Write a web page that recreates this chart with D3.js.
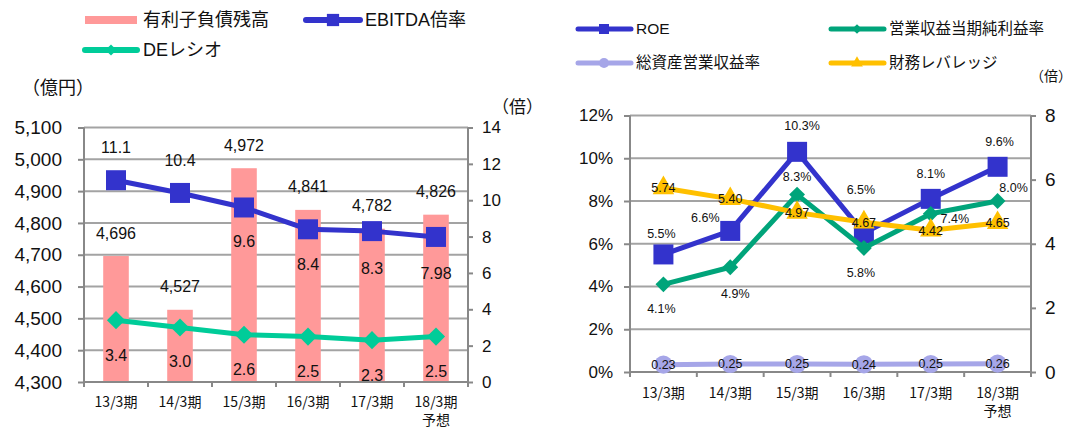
<!DOCTYPE html>
<html>
<head>
<meta charset="utf-8">
<script src="https://cdn.jsdelivr.net/npm/d3@7"></script>
<style>
  body { margin: 0; background: #fff; }
  svg { display: block; font-family: "Liberation Sans", Arial, "Noto Sans CJK JP", sans-serif; }
</style>
</head>
<body>
<svg id="chart" width="1073" height="428"></svg>
<script>
// ---- data ----
var categories = ["13/3期", "14/3期", "15/3期", "16/3期", "17/3期", "18/3期"];
var categorySub = ["", "", "", "", "", "予想"];

var debt = [4696, 4527, 4972, 4841, 4782, 4826];          // 有利子負債残高 (億円)
var ebitdaRatio = [11.1, 10.4, 9.6, 8.4, 8.3, 7.98];      // EBITDA倍率 (倍)
var deRatio = [3.4, 3.0, 2.6, 2.5, 2.3, 2.5];             // DEレシオ (倍)

var roe = [5.5, 6.6, 10.3, 6.5, 8.1, 9.6];                // ROE (%)
var netMargin = [4.1, 4.9, 8.3, 5.8, 7.4, 8.0];           // 営業収益当期純利益率 (%)
var assetTurnover = [0.23, 0.25, 0.25, 0.24, 0.25, 0.26]; // 総資産営業収益率 (倍)
var leverage = [5.74, 5.40, 4.97, 4.67, 4.42, 4.65];      // 財務レバレッジ (倍)

var debtTicks = [4300, 4400, 4500, 4600, 4700, 4800, 4900, 5000, 5100];
var ratioTicks = [0, 2, 4, 6, 8, 10, 12, 14];
var pctTicks = [0, 2, 4, 6, 8, 10, 12];
var timesTicks = [0, 2, 4, 6, 8];

// label placement (pixels from the point)
var ebitdaLabelDy = [-33, -33, 34, 35, 37, 36];
var deLabelDy = [35, 34, 35, 35, 35, 35];
var roeLabelOff = [[-2, -21], [-25, -13], [5, -26], [-3, -43], [0, -25], [2, -25]];
var marginLabelOff = [[-2, 24], [5, 26], [0, -18], [-3, 25], [24, 5], [16, -13]];

// ---- styles ----
var gridColor = "#a3a3a3", axisColor = "#888888";
var pink = "#ff9999", blue = "#3333cc", greenL = "#00cc99", greenR = "#00a47a",
    lavender = "#a6a6e8", yellow = "#ffc000";

var svg = d3.select("#chart");
svg.append("rect").attr("width", 1073).attr("height", 428).attr("fill", "#fff");

function styleAxis(g, size) {
  g.select(".domain").remove();
  g.selectAll(".tick line").attr("stroke", axisColor).attr("stroke-width", 2);
  g.selectAll(".tick text").attr("fill", "#111").style("font-size", size + "px");
}

function bottomAxis(x, x0, x1, y0, labelY) {
  svg.append("line").attr("x1", x0).attr("x2", x1).attr("y1", y0).attr("y2", y0)
    .attr("stroke", axisColor).attr("stroke-width", 2);
  var bounds = categories.map(function (c) { return x(c); }).concat([x1]);
  svg.selectAll(null).data(bounds).enter().append("line")
    .attr("x1", function (d) { return d; }).attr("x2", function (d) { return d; })
    .attr("y1", y0).attr("y2", y0 + 5)
    .attr("stroke", axisColor).attr("stroke-width", 2);
  var t = svg.selectAll(null).data(categories).enter().append("text")
    .attr("x", function (d) { return x(d) + x.bandwidth() / 2; })
    .attr("y", labelY)
    .attr("text-anchor", "middle")
    .style("font-family", "'Noto Sans CJK JP', sans-serif")
    .style("font-size", "14px").attr("fill", "#111");
  t.append("tspan").text(function (d) { return d; });
  t.append("tspan").attr("x", function (d) { return x(d) + x.bandwidth() / 2; })
    .attr("dy", 18).text(function (d, i) { return categorySub[i]; });
}

function vline(x, y0, y1) {
  svg.append("line").attr("x1", x).attr("x2", x).attr("y1", y0).attr("y2", y1)
    .attr("stroke", axisColor).attr("stroke-width", 2);
}

function series(x, y, vals, color, width, symbol, size) {
  var cx = function (i) { return x(categories[i]) + x.bandwidth() / 2; };
  svg.append("path").datum(vals)
    .attr("fill", "none").attr("stroke", color).attr("stroke-width", width)
    .attr("stroke-linejoin", "round")
    .attr("d", d3.line().x(function (d, i) { return cx(i); }).y(function (d) { return y(d); }));
  svg.selectAll(null).data(vals).enter().append("path")
    .attr("transform", function (d, i) { return "translate(" + cx(i) + "," + y(d) + ")"; })
    .attr("d", d3.symbol().type(symbol).size(size)())
    .attr("fill", color);
}

function labels(x, y, vals, fmt, offs, size) {
  svg.selectAll(null).data(vals).enter().append("text")
    .attr("x", function (d, i) { return x(categories[i]) + x.bandwidth() / 2 + offs[i][0]; })
    .attr("y", function (d, i) { return y(d) + offs[i][1]; })
    .attr("dy", "0.35em")
    .attr("text-anchor", "middle")
    .style("font-size", size + "px").attr("fill", "#111")
    .text(fmt);
}

// ================= left chart =================
var L = { x0: 84, x1: 468, y0: 382, y1: 127.5 };
var xL = d3.scaleBand().domain(categories).range([L.x0, L.x1]);
var yDebt = d3.scaleLinear().domain([4300, 5100]).range([L.y0, L.y1]);
var yRatio = d3.scaleLinear().domain([0, 14]).range([L.y0, L.y1]);

svg.selectAll(null).data(debtTicks.slice(1)).enter().append("line")
  .attr("x1", L.x0).attr("x2", L.x1)
  .attr("y1", function (d) { return yDebt(d); }).attr("y2", function (d) { return yDebt(d); })
  .attr("stroke", gridColor).attr("stroke-width", 2);

var barW = xL.bandwidth() * 0.4;
svg.selectAll(null).data(debt).enter().append("rect")
  .attr("x", function (d, i) { return xL(categories[i]) + (xL.bandwidth() - barW) / 2; })
  .attr("y", function (d) { return yDebt(d); })
  .attr("width", barW)
  .attr("height", function (d) { return L.y0 - yDebt(d); })
  .attr("fill", pink);

svg.append("g").attr("transform", "translate(" + L.x0 + ",0)")
  .call(d3.axisLeft(yDebt).tickValues(debtTicks).tickFormat(d3.format(",")).tickSize(6).tickPadding(16))
  .call(styleAxis, 19);
svg.append("g").attr("transform", "translate(" + L.x1 + ",0)")
  .call(d3.axisRight(yRatio).tickValues(ratioTicks).tickSize(5).tickPadding(9))
  .call(styleAxis, 17);
vline(L.x0, L.y1, L.y0);
vline(L.x1, L.y1, L.y0);
bottomAxis(xL, L.x0, L.x1, L.y0, 407);

series(xL, yRatio, deRatio, greenL, 5, d3.symbolDiamond2, 210);
series(xL, yRatio, ebitdaRatio, blue, 5, d3.symbolSquare, 400);

labels(xL, yDebt, debt, d3.format(","), debt.map(function () { return [0, -23]; }), 16);
labels(xL, yRatio, ebitdaRatio, String, ebitdaLabelDy.map(function (d) { return [0, d]; }), 16);
labels(xL, yRatio, deRatio, d3.format(".1f"), deLabelDy.map(function (d) { return [0, d]; }), 16);

// left legend
svg.append("rect").attr("x", 85).attr("y", 16).attr("width", 52).attr("height", 8).attr("fill", pink);
svg.append("line").attr("x1", 306).attr("x2", 360).attr("y1", 20).attr("y2", 20)
  .attr("stroke", blue).attr("stroke-width", 6).attr("stroke-linecap", "round");
svg.append("path").attr("transform", "translate(333,20)")
  .attr("d", d3.symbol().type(d3.symbolSquare).size(150)()).attr("fill", blue);
svg.append("line").attr("x1", 85).attr("x2", 137).attr("y1", 50).attr("y2", 50)
  .attr("stroke", greenL).attr("stroke-width", 6).attr("stroke-linecap", "round");
svg.append("path").attr("transform", "translate(111,50)")
  .attr("d", d3.symbol().type(d3.symbolDiamond2).size(80)()).attr("fill", greenL);
var legL = [["有利子負債残高", 143, 20], ["EBITDA倍率", 365, 20], ["DEレシオ", 143, 50]];
svg.selectAll(null).data(legL).enter().append("text")
  .attr("x", function (d) { return d[1]; }).attr("y", function (d) { return d[2]; })
  .attr("dy", "0.35em").style("font-size", "18px").attr("fill", "#111")
  .text(function (d) { return d[0]; });
svg.append("text").attr("x", 22).attr("y", 88).attr("dy", "0.35em")
  .style("font-size", "18px").attr("fill", "#111").text("（億円）");
svg.append("text").attr("x", 492).attr("y", 107).attr("dy", "0.35em")
  .style("font-size", "17px").attr("fill", "#111").text("（倍）");

// ================= right chart =================
var R = { x0: 630, x1: 1031, y0: 372, y1: 115.5 };
var xR = d3.scaleBand().domain(categories).range([R.x0, R.x1]);
var yPct = d3.scaleLinear().domain([0, 12]).range([R.y0, R.y1]);
var yTimes = d3.scaleLinear().domain([0, 8]).range([R.y0, R.y1]);

svg.selectAll(null).data(pctTicks.slice(1)).enter().append("line")
  .attr("x1", R.x0).attr("x2", R.x1)
  .attr("y1", function (d) { return yPct(d); }).attr("y2", function (d) { return yPct(d); })
  .attr("stroke", gridColor).attr("stroke-width", 2);

svg.append("g").attr("transform", "translate(" + R.x0 + ",0)")
  .call(d3.axisLeft(yPct).tickValues(pctTicks).tickFormat(function (d) { return d + "%"; }).tickSize(6).tickPadding(11))
  .call(styleAxis, 17);
svg.append("g").attr("transform", "translate(" + R.x1 + ",0)")
  .call(d3.axisRight(yTimes).tickValues(timesTicks).tickSize(5).tickPadding(9))
  .call(styleAxis, 19);
vline(R.x0, R.y1, R.y0);
vline(R.x1, R.y1, R.y0);
bottomAxis(xR, R.x0, R.x1, R.y0, 398);

series(xR, yPct, roe, blue, 5, d3.symbolSquare, 400);
series(xR, yPct, netMargin, greenR, 5, d3.symbolDiamond2, 160);
series(xR, yTimes, assetTurnover, lavender, 5, d3.symbolCircle, 260);
series(xR, yTimes, leverage, yellow, 5, d3.symbolTriangle, 200);

var fmtPct = function (d) { return d3.format(".1f")(d) + "%"; };
var zero = categories.map(function () { return [0, 0]; });
labels(xR, yPct, roe, fmtPct, roeLabelOff, 12.5);
labels(xR, yPct, netMargin, fmtPct, marginLabelOff, 12.5);
labels(xR, yTimes, assetTurnover, d3.format(".2f"), zero, 12.5);
labels(xR, yTimes, leverage, d3.format(".2f"), zero, 12.5);

// right legend
var legR = [
  { name: "ROE", color: blue, sym: d3.symbolSquare, size: 100, x: 577, y: 29 },
  { name: "営業収益当期純利益率", color: greenR, sym: d3.symbolDiamond2, size: 60, x: 830, y: 29 },
  { name: "総資産営業収益率", color: lavender, sym: d3.symbolCircle, size: 80, x: 577, y: 63 },
  { name: "財務レバレッジ", color: yellow, sym: d3.symbolTriangle, size: 60, x: 830, y: 63 }
];
var lg = svg.selectAll(null).data(legR).enter().append("g")
  .attr("transform", function (d) { return "translate(" + d.x + "," + d.y + ")"; });
lg.append("line").attr("x1", 1).attr("x2", 54)
  .attr("stroke", function (d) { return d.color; }).attr("stroke-width", 5).attr("stroke-linecap", "round");
lg.append("path").attr("transform", "translate(27,0)")
  .attr("d", function (d) { return d3.symbol().type(d.sym).size(d.size)(); })
  .attr("fill", function (d) { return d.color; });
lg.append("text").attr("x", 59).attr("dy", "0.35em")
  .style("font-size", "15.5px").attr("fill", "#111").text(function (d) { return d.name; });
svg.append("text").attr("x", 1030).attr("y", 76).attr("dy", "0.35em")
  .style("font-size", "14px").attr("fill", "#111").text("（倍）");
</script>
</body>
</html>
